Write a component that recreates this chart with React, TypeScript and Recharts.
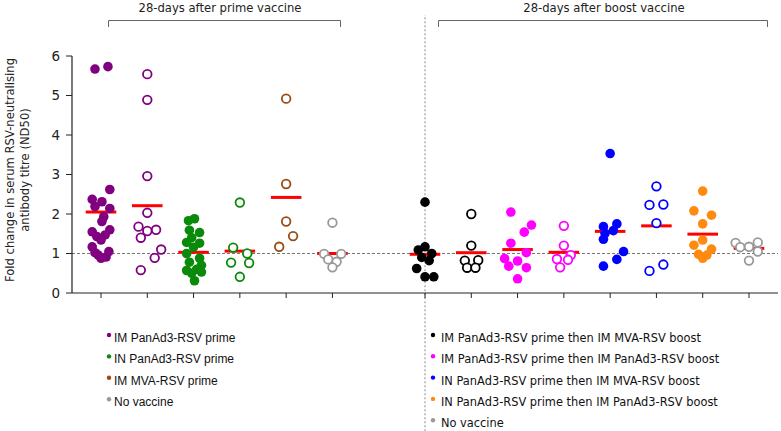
import React from 'react';
import { ScatterChart, Scatter, XAxis, YAxis, ReferenceLine } from 'recharts';

// ---- data ----
const imPanPrimeValues = [5.67, 5.73, 2.62, 2.37, 2.31, 2.19, 2.14, 1.93, 1.81, 1.6, 1.55, 1.47, 1.43, 1.34, 1.17, 1.05, 1.02, 0.96, 0.91, 0.88];
const imPanPrimeJitter = [-0.13, 0.15, 0.19, -0.19, 0.02, -0.13, 0.19, 0.06, 0.02, 0.19, -0.19, 0.09, -0.09, 0, -0.19, 0.17, -0.13, -0.06, 0.11, 0];
const imPanPrimeCtrlValues = [5.54, 4.89, 2.96, 2.03, 1.68, 1.6, 1.57, 1.4, 1.1, 0.89, 0.58];
const imPanPrimeCtrlJitter = [0, 0, 0, 0, -0.19, 0.19, 0, -0.14, 0.3, 0.16, -0.14];
const inPanPrimeValues = [1.83, 1.88, 1.59, 1.53, 1.4, 1.28, 1.26, 1.16, 1.0, 0.88, 0.78, 0.7, 0.6, 0.57, 0.53, 0.5, 0.31];
const inPanPrimeJitter = [-0.11, 0.02, -0.09, 0.13, -0.04, -0.15, 0.13, 0, -0.15, 0.13, -0.09, 0.17, 0.065, -0.15, 0.17, -0.04, 0.02];
const inPanPrimeCtrlValues = [2.29, 1.15, 1.0, 0.77, 0.76, 0.41];
const inPanPrimeCtrlJitter = [0, -0.145, 0.16, -0.19, 0.2, 0];
const imMvaPrimeValues = [4.92, 2.76, 1.81, 1.44, 1.17];
const imMvaPrimeJitter = [0, 0, 0, 0.15, -0.15];
const noVaccinePrimeValues = [1.78, 0.99, 0.99, 0.85, 0.79, 0.65];
const noVaccinePrimeJitter = [0, -0.18, 0.19, -0.09, 0.09, 0];
const imPanImMvaValues = [2.3, 1.17, 1.09, 1.0, 0.9, 0.82, 0.62, 0.41, 0.41];
const imPanImMvaJitter = [0, 0, -0.145, 0.145, -0.07, 0.09, -0.18, 0, 0.19];
const imPanImMvaCtrlValues = [2.0, 1.2, 0.82, 0.83, 0.64, 0.64];
const imPanImMvaCtrlJitter = [0, 0, -0.14, 0.15, -0.09, 0.09];
const imPanImPanValues = [2.05, 1.72, 1.54, 1.26, 1.02, 0.87, 0.81, 0.68, 0.64, 0.36];
const imPanImPanJitter = [-0.145, 0.3, 0.145, -0.145, 0.19, -0.28, 0, -0.19, 0.19, 0];
const imPanImPanCtrlValues = [1.7, 1.2, 0.96, 0.86, 0.84, 0.65];
const imPanImPanCtrlJitter = [0, 0, 0.15, -0.15, 0.09, -0.08];
const inPanImMvaValues = [3.53, 1.75, 1.68, 1.58, 1.51, 1.36, 1.05, 0.85, 0.68];
const inPanImMvaJitter = [0, 0.145, -0.145, 0.07, -0.11, -0.145, 0.29, 0.145, -0.145];
const inPanImMvaCtrlValues = [2.7, 2.23, 2.24, 1.77, 0.72, 0.56];
const inPanImMvaCtrlJitter = [0, -0.15, 0.15, 0, 0.15, -0.15];
const inPanImPanValues = [2.58, 2.08, 1.97, 1.75, 1.34, 1.21, 1.11, 0.98, 0.96, 0.88];
const inPanImPanJitter = [0, -0.19, 0.19, 0, 0, -0.19, 0.19, -0.09, 0.09, 0];
const noVaccineBoostValues = [1.27, 1.28, 1.16, 1.17, 1.05, 0.82];
const noVaccineBoostJitter = [-0.29, 0.19, -0.19, 0, 0.19, 0];

const groupMeans = [2.05, 2.21, 1.03, 1.06, 2.42, 1.0, 0.98, 1.02, 1.1, 1.03, 1.56, 1.7, 1.49, 1.13];
const groupPositions = [0, 1, 2, 3, 4, 5, 7, 8, 9, 10, 11, 12, 13, 14];
const groupColors = ['#800080', '#800080', '#0a8a0a', '#0a8a0a', '#9a4a12', '#999999', '#000000', '#000000', '#ff00ff', '#ff00ff', '#0000ff', '#0000ff', '#ff8a10', '#999999'];
const groupFilled = [true, false, true, false, false, false, true, false, true, false, true, false, true, false];
const groupValues = [imPanPrimeValues, imPanPrimeCtrlValues, inPanPrimeValues, inPanPrimeCtrlValues, imMvaPrimeValues, noVaccinePrimeValues, imPanImMvaValues, imPanImMvaCtrlValues, imPanImPanValues, imPanImPanCtrlValues, inPanImMvaValues, inPanImMvaCtrlValues, inPanImPanValues, noVaccineBoostValues];
const groupJitter = [imPanPrimeJitter, imPanPrimeCtrlJitter, inPanPrimeJitter, inPanPrimeCtrlJitter, imMvaPrimeJitter, noVaccinePrimeJitter, imPanImMvaJitter, imPanImMvaCtrlJitter, imPanImPanJitter, imPanImPanCtrlJitter, inPanImMvaJitter, inPanImMvaCtrlJitter, inPanImPanJitter, noVaccineBoostJitter];

const yTicks = [0, 1, 2, 3, 4, 5, 6];
const primeLegend = ['IM PanAd3-RSV prime', 'IN PanAd3-RSV prime', 'IM MVA-RSV prime', 'No vaccine'];
const primeLegendColors = ['#800080', '#0a8a0a', '#9a4a12', '#999999'];
const boostLegend = ['IM PanAd3-RSV prime then IM MVA-RSV boost', 'IM PanAd3-RSV prime then IM PanAd3-RSV boost', 'IN PanAd3-RSV prime then IM MVA-RSV boost', 'IN PanAd3-RSV prime then IM PanAd3-RSV boost', 'No vaccine'];
const boostLegendColors = ['#000000', '#ff00ff', '#0000ff', '#ff8a10', '#999999'];
const primeTitle = '28-days after prime vaccine';
const boostTitle = '28-days after boost vaccine';
const yLabel1 = 'Fold change in serum RSV-neutralising';
const yLabel2 = 'antibody titre (ND50)';

const groups = groupPositions.map((pos, i) => ({
  pos,
  color: groupColors[i],
  filled: groupFilled[i],
  mean: groupMeans[i],
  data: groupValues[i].map((v, j) => ({ x: pos + groupJitter[i][j], y: v })),
}));

const W = 781;
const H = 431;

export default function App() {
  return (
    <div style={{ position: 'absolute', left: 0, top: 0, width: W, height: H, background: '#fff' }}>
      <ScatterChart width={W} height={H} margin={{ top: 56, right: 3, bottom: 108, left: 0 }}>
        <XAxis
          type="number"
          dataKey="x"
          domain={[-0.6266, 14.6266]}
          ticks={groupPositions}
          tickFormatter={() => ''}
          tickSize={5}
          height={30}
          axisLine={{ stroke: '#222', strokeWidth: 1.2 }}
          tickLine={{ stroke: '#222' }}
          allowDataOverflow
        />
        <YAxis
          type="number"
          dataKey="y"
          domain={[0, 6]}
          ticks={yTicks}
          width={72}
          tickSize={6}
          tickMargin={6}
          axisLine={{ stroke: '#222', strokeWidth: 1.2 }}
          tickLine={{ stroke: '#222' }}
          tick={{ fill: '#222', fontSize: 13.5, fontFamily: 'DejaVu Sans' }}
          allowDataOverflow
        />
        <ReferenceLine y={1} stroke="#777" strokeDasharray="3 2" strokeWidth={1} />
        <ReferenceLine
          segment={[{ x: 7, y: -3.5 }, { x: 7, y: 7.04 }]}
          ifOverflow="visible"
          stroke="#888"
          strokeDasharray="2 2"
          strokeWidth={1}
        />
        {groups.map((g, i) => (
          <ReferenceLine
            key={'m' + i}
            segment={[{ x: g.pos - 0.33, y: g.mean }, { x: g.pos + 0.33, y: g.mean }]}
            stroke="#ff0000"
            strokeWidth={3}
          />
        ))}
        {groups.map((g, i) => (
          <Scatter
            key={'s' + i}
            data={g.data}
            isAnimationActive={false}
            shape={(p: any) =>
              g.filled ? (
                <circle cx={p.cx} cy={p.cy} r={4.8} fill={g.color} stroke="none" />
              ) : (
                <circle cx={p.cx} cy={p.cy} r={4.3} fill="#ffffff" stroke={g.color} strokeWidth={1.8} />
              )
            }
          />
        ))}
      </ScatterChart>
      <svg width={W} height={H} style={{ position: 'absolute', left: 0, top: 0, pointerEvents: 'none' }}>
        <text x={220} y={12} textAnchor="middle" fontFamily="DejaVu Sans" fontSize={11.6} fill="#222">{primeTitle}</text>
        <text x={604} y={12} textAnchor="middle" fontFamily="DejaVu Sans" fontSize={11.6} fill="#222">{boostTitle}</text>
        <polyline points="108.5,27 108.5,20.5 340.5,20.5 340.5,27" fill="none" stroke="#666" strokeWidth={1} />
        <polyline points="438.5,27 438.5,20.5 767.5,20.5 767.5,27" fill="none" stroke="#666" strokeWidth={1} />
        <text transform="translate(14,170) rotate(-90)" textAnchor="middle" fontFamily="DejaVu Sans" fontSize={11.6} fill="#222">{yLabel1}</text>
        <text transform="translate(29,170) rotate(-90)" textAnchor="middle" fontFamily="DejaVu Sans" fontSize={11.6} fill="#222">{yLabel2}</text>
        {primeLegend.map((t, i) => (
          <g key={'pl' + i}>
            <circle cx={109} cy={335 + i * 21.4} r={2.2} fill={primeLegendColors[i]} />
            <text x={114} y={342 + i * 21.4} fontFamily="Liberation Sans" fontSize={12} fill="#111">{t}</text>
          </g>
        ))}
        {boostLegend.map((t, i) => (
          <g key={'bl' + i}>
            <circle cx={433} cy={335 + i * 21.3} r={2.2} fill={boostLegendColors[i]} />
            <text x={441} y={342 + i * 21.3} fontFamily="DejaVu Sans" fontSize={11.4} fill="#111">{t}</text>
          </g>
        ))}
      </svg>
    </div>
  );
}
